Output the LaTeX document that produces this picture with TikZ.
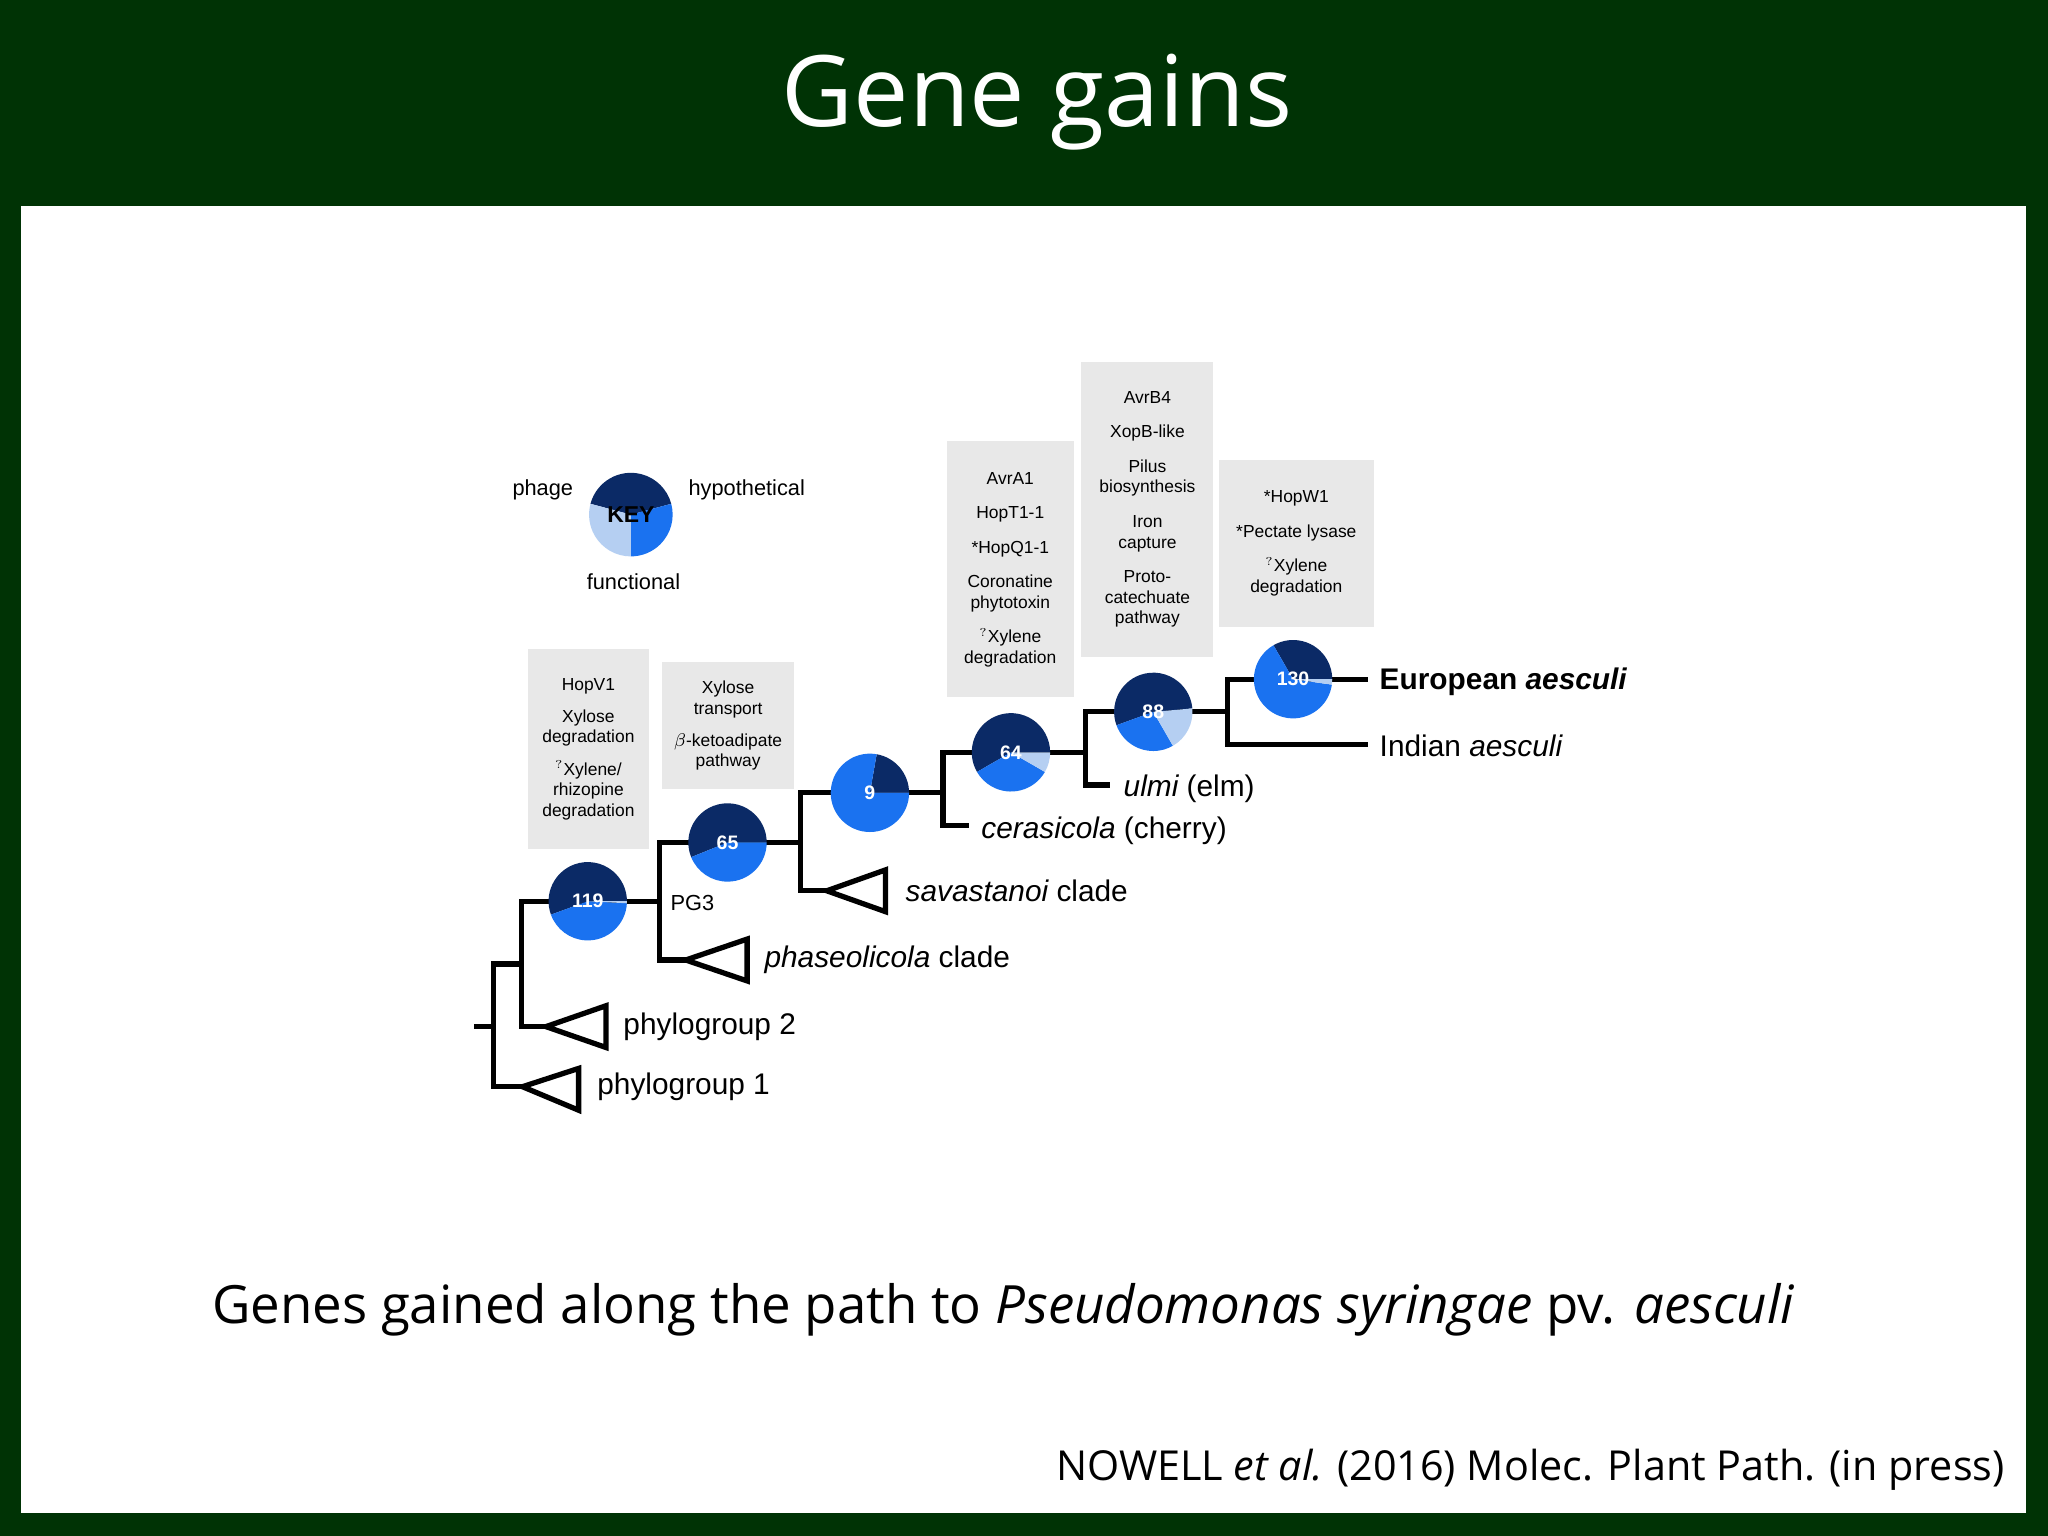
\documentclass[tikz,border=0pt]{standalone}
\usepackage{fontspec}
\setmainfont{Liberation Sans}
\newfontfamily\titlefont{Open Sans}
\begin{document}
\begin{tikzpicture}[x=0.02cm,y=-0.02cm,
  br/.style={line width=2.3pt,line cap=rect},
  tip/.style={anchor=west,font=\fontsize{13}{15}\selectfont,inner sep=0},
  gbox/.style={fill=black!9,align=center,font=\fontsize{7.6}{9}\selectfont,inner sep=2pt},
  num/.style={text=white,font=\bfseries\fontsize{8.5}{10}\selectfont}]
\definecolor{bg}{HTML}{003305}
\definecolor{pdark}{HTML}{0B2A66}
\definecolor{pblue}{HTML}{1A72F0}
\definecolor{plight}{HTML}{B5CFF2}
\newcommand\mywedge[5]{\fill[#5] (#1) -- ++(#2:#4) arc[start angle=#2,end angle=#3,radius=#4] -- cycle;}
\newcommand\pienode[9]{%
 \coordinate (#1) at (#2);
 \mywedge{#1}{#4}{#5}{30}{pdark}\mywedge{#1}{#6}{#7}{30}{pblue}\mywedge{#1}{#8}{#9}{30}{plight}
 \node[num] (#1-t) at (#1) {#3};}
\fill[bg] (0,0) rectangle (1568,1176);
\useasboundingbox (0,0) rectangle (1568,1176);
\fill[white] (16,158) rectangle (1551,1158);
\node[text=white,font=\titlefont\fontsize{43}{50}\selectfont] (title) at (794,78) {Gene gains};
% tree
\coordinate (r0) at (365,786);
\draw[br] (r0) -- (378,786);
\draw[br] (378,738) -- (378,832) -- (400,832);
\draw[br] (378,738) -- (399,738);
\draw[br] (399,690) -- (399,786) -- (418,786);
\draw[br] (399,690) -- (505,690);
\draw[br] (505,645) -- (505,735) -- (525,735);
\draw[br] (505,645) -- (613,645);
\draw[br] (613,607) -- (613,682) -- (633,682);
\draw[br] (613,607) -- (722,607);
\draw[br] (722,576) -- (722,632) -- (740,632);
\draw[br] (722,576) -- (831,576);
\draw[br] (831,545) -- (831,601) -- (848,601);
\draw[br] (831,545) -- (940,545);
\draw[br] (940,520) -- (940,570) -- (1045,570);
\draw[br] (940,520) -- (1045,520);
% clades
\draw[br,line join=miter] (400,832) -- (443,818) -- (443,850) -- cycle;
\draw[br,line join=miter] (418,786) -- (464,770) -- (464,802) -- cycle;
\draw[br,line join=miter] (525,735) -- (572,719) -- (572,751) -- cycle;
\draw[br,line join=miter] (633,682) -- (678,666) -- (678,698) -- cycle;
% pies
\pienode{p119}{450,690}{119}{160}{360}{3}{160}{0}{3}
\pienode{p65}{557,645}{65}{158}{360}{0}{158}{0}{0}
\pienode{p9}{666,607}{9}{280}{360}{0}{280}{0}{0}
\pienode{p64}{774,576}{64}{150}{360}{30}{150}{0}{30}
\pienode{p88}{883,545}{88}{160}{355}{60}{160}{-5}{60}
\pienode{p130}{990,520}{130}{240}{360}{8}{240}{0}{8}
% key
\coordinate (key) at (483,394);
\mywedge{key}{195}{345}{32}{pdark}\mywedge{key}{-15}{90}{32}{pblue}\mywedge{key}{90}{195}{32}{plight}
\node[font=\bfseries\fontsize{10}{12}\selectfont] (keyt) at (key) {KEY};
\node[font=\fontsize{9.5}{11}\selectfont,anchor=east] (kph) at (445,375) {phage};
\node[font=\fontsize{9.5}{11}\selectfont,anchor=west] (khy) at (521,375) {hypothetical};
\node[font=\fontsize{9.5}{11}\selectfont] (kfu) at (485,445) {functional};
% labels
\node[tip,font=\fontsize{9.5}{11}\selectfont] (pg3) at (513,691) {PG3};
\node[tip] (l1) at (457,832) {phylogroup 1};
\node[tip] (l2) at (477,786) {phylogroup 2};
\node[tip] (l3) at (585,735) {\itshape phaseolicola\upshape{} clade};
\node[tip] (l4) at (693,682) {\itshape savastanoi\upshape{} clade};
\node[tip] (l5) at (751,636) {\itshape cerasicola\upshape{} (cherry)};
\node[tip] (l6) at (860,604) {\itshape ulmi\upshape{} (elm)};
\node[tip] (l7) at (1056,522) {\bfseries European \itshape aesculi};
\node[tip] (l8) at (1056,571) {Indian \itshape aesculi};
% boxes
\fill[black!9] (404,497) rectangle (497,650);
\node[gbox,fill=none] (b1) at (450.5,573.5) {HopV1\\[5pt]Xylose\\degradation\\[5pt]$^?$Xylene/\\rhizopine\\degradation};
\fill[black!9] (507,507) rectangle (608,604);
\node[gbox,fill=none] (b2) at (557.5,555.5) {Xylose\\transport\\[5pt]$\beta$-ketoadipate\\pathway};
\fill[black!9] (725,338) rectangle (822,534);
\node[gbox,fill=none] (b3) at (773.5,436) {AvrA1\\[6pt]HopT1-1\\[6pt]*HopQ1-1\\[6pt]Coronatine\\phytotoxin\\[6pt]$^?$Xylene\\degradation};
\fill[black!9] (828,277) rectangle (929,503);
\node[gbox,fill=none] (b4) at (878.5,390) {AvrB4\\[6pt]XopB-like\\[6pt]Pilus\\biosynthesis\\[6pt]Iron\\capture\\[6pt]Proto-\\catechuate\\pathway};
\fill[black!9] (933,352) rectangle (1052,480);
\node[gbox,fill=none] (b5) at (992.5,416) {*HopW1\\[6pt]*Pectate lysase\\[6pt]$^?$Xylene\\degradation};
% caption
\node[font=\titlefont\fontsize{23}{28}\selectfont] (cap) at (768,1003) {Genes gained along the path to \itshape Pseudomonas syringae\upshape{} pv. \itshape aesculi};
\node[font=\titlefont\fontsize{18}{22}\selectfont,anchor=east] (cred) at (1541,1125) {NOWELL \itshape et al.\upshape{} (2016) Molec. Plant Path. (in press)};
\end{tikzpicture}
\end{document}
